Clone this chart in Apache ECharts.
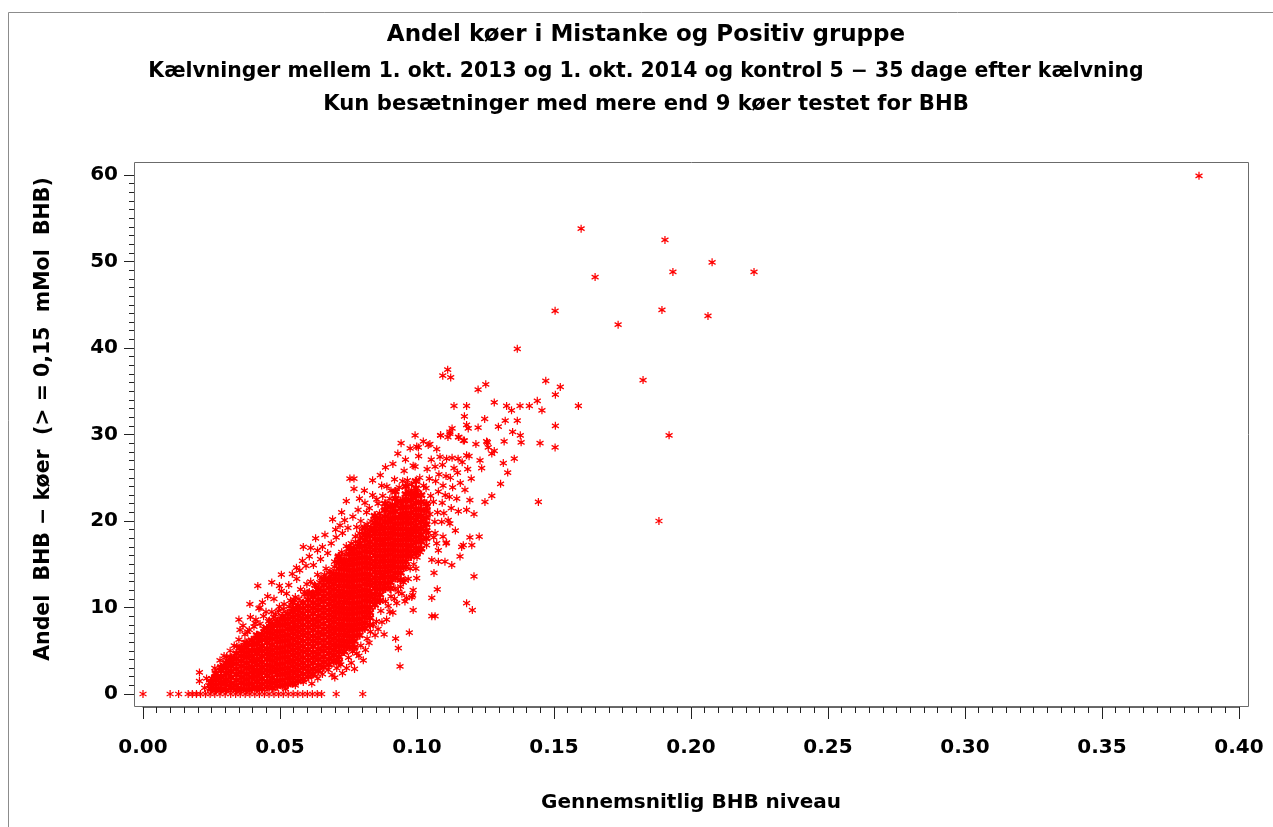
<!DOCTYPE html>
<html>
<head>
<meta charset="utf-8">
<script src="https://cdn.jsdelivr.net/npm/echarts@6/dist/echarts.min.js"></script>
<style>html,body{margin:0;padding:0;background:#fff;}#c{width:1273px;height:827px;}</style>
</head>
<body>
<div id="c"></div>
<script>
const titleLines = [
  "Andel køer i Mistanke og Positiv gruppe",
  "Kælvninger mellem 1. okt. 2013 og 1. okt. 2014 og kontrol 5 − 35 dage efter kælvning",
  "Kun besætninger med mere end 9 køer testet for BHB"
];
const xName = "Gennemsnitlig BHB niveau";
const yName = "Andel  BHB − køer  (> = 0,15  mMol  BHB)";
const xTicks = [0, 0.05, 0.10, 0.15, 0.20, 0.25, 0.30, 0.35, 0.40];
const yTicks = [0, 10, 20, 30, 40, 50, 60];

// herds with 0 % BHB cows
const zeroRowX = [0.000, 0.0099, 0.013, 0.0165, 0.018, 0.0195, 0.021, 0.0228, 0.0245, 0.0262, 0.0281, 0.030, 0.032, 0.0338, 0.0355, 0.0373, 0.039, 0.0408, 0.0425, 0.0443, 0.046, 0.0478, 0.0495, 0.0512, 0.053, 0.0548, 0.0565, 0.0583, 0.060, 0.0618, 0.0636, 0.0652, 0.0705, 0.0802];

// dense core, read column by column: x and the y values seen in that column
const coreX = [0.0248, 0.0266, 0.0285, 0.0303, 0.0322, 0.0341, 0.0359, 0.0378, 0.0397, 0.0416, 0.0434, 0.0453, 0.0472, 0.0490, 0.0509, 0.0528, 0.0547, 0.0565, 0.0584, 0.0603, 0.0621, 0.0640, 0.0659, 0.0678, 0.0696, 0.0715, 0.0734, 0.0753, 0.0771, 0.0790, 0.0809, 0.0828, 0.0846, 0.0865, 0.0884, 0.0903, 0.0921, 0.0940, 0.0959, 0.0978, 0.0996, 0.1015, 0.1034];
const coreY = [
  [0.6, 1.3],
  [0.5, 1.1, 1.8, 2.4],
  [0.6, 1.3, 1.9, 2.7, 3.1],
  [0.5, 1.2, 1.7, 2.4, 3.0, 3.6],
  [0.7, 1.2, 1.9, 2.6, 3.2, 3.7, 4.2],
  [0.5, 1.0, 1.6, 2.3, 2.9, 3.5, 4.1, 4.7],
  [0.6, 1.3, 1.9, 2.5, 3.2, 3.8, 4.4, 5.0, 5.4],
  [0.5, 1.1, 1.7, 2.3, 3.0, 3.6, 4.3, 4.8, 5.4, 5.9],
  [0.6, 1.2, 1.9, 2.5, 3.1, 3.8, 4.4, 5.0, 5.7, 6.2],
  [0.7, 1.4, 2.0, 2.6, 3.3, 3.9, 4.6, 5.1, 5.8, 6.4, 6.8],
  [0.6, 1.2, 1.8, 2.5, 3.1, 3.7, 4.4, 5.0, 5.6, 6.3, 6.9],
  [0.8, 1.4, 2.1, 2.7, 3.3, 4.0, 4.6, 5.2, 5.9, 6.5, 7.1, 7.6],
  [0.7, 1.3, 1.9, 2.6, 3.2, 3.9, 4.5, 5.1, 5.7, 6.4, 7.0, 7.6, 8.1],
  [0.9, 1.5, 2.2, 2.8, 3.4, 4.1, 4.7, 5.3, 6.0, 6.6, 7.2, 7.9, 8.4],
  [1.0, 1.6, 2.3, 2.9, 3.5, 4.2, 4.8, 5.4, 6.1, 6.7, 7.3, 8.0, 8.6, 9.0],
  [1.1, 1.8, 2.4, 3.0, 3.7, 4.3, 4.9, 5.6, 6.2, 6.8, 7.5, 8.1, 8.7, 9.3],
  [1.3, 1.9, 2.6, 3.2, 3.8, 4.5, 5.1, 5.7, 6.4, 7.0, 7.6, 8.3, 8.9, 9.5, 9.9, 10.6],
  [1.5, 2.1, 2.8, 3.4, 4.0, 4.7, 5.3, 5.9, 6.6, 7.2, 7.8, 8.5, 9.1, 9.7, 10.2],
  [1.7, 2.3, 3.0, 3.6, 4.2, 4.9, 5.5, 6.1, 6.8, 7.4, 8.0, 8.7, 9.3, 9.9, 10.5],
  [2.0, 2.6, 3.2, 3.9, 4.5, 5.1, 5.8, 6.4, 7.0, 7.7, 8.3, 8.9, 9.6, 10.2, 10.9, 11.6],
  [2.3, 2.9, 3.6, 4.2, 4.8, 5.5, 6.1, 6.7, 7.4, 8.0, 8.6, 9.3, 9.9, 10.5, 11.2, 11.6],
  [2.7, 3.3, 4.0, 4.6, 5.2, 5.9, 6.5, 7.1, 7.8, 8.4, 9.0, 9.7, 10.3, 10.9, 11.6, 12.1],
  [3.1, 3.7, 4.3, 5.0, 5.6, 6.2, 6.9, 7.5, 8.1, 8.8, 9.4, 10.0, 10.7, 11.3, 11.9, 12.6, 13.2],
  [3.4, 4.0, 4.7, 5.3, 5.9, 6.6, 7.2, 7.8, 8.5, 9.1, 9.7, 10.4, 11.0, 11.6, 12.3, 12.9, 13.3],
  [3.8, 4.5, 5.1, 5.7, 6.4, 7.0, 7.6, 8.3, 8.9, 9.5, 10.2, 10.8, 11.4, 12.1, 12.7, 13.3, 13.9],
  [3.7, 4.3, 4.9, 5.6, 6.2, 6.8, 7.5, 8.1, 8.7, 9.4, 10.0, 10.6, 11.3, 11.9, 12.5, 13.2, 13.8, 14.5, 15.2, 15.9],
  [4.9, 5.5, 6.1, 6.8, 7.4, 8.0, 8.7, 9.3, 9.9, 10.6, 11.2, 11.8, 12.5, 13.1, 13.7, 14.4, 15.0, 15.4],
  [5.4, 6.0, 6.7, 7.3, 7.9, 8.6, 9.2, 9.8, 10.5, 11.1, 11.7, 12.4, 13.0, 13.6, 14.3, 14.9, 15.5, 16.2, 16.8],
  [5.4, 6.1, 6.7, 7.4, 8.0, 8.6, 9.3, 9.9, 10.5, 11.2, 11.8, 12.4, 13.1, 13.7, 14.3, 15.0, 15.6, 16.2, 16.8],
  [6.8, 7.5, 8.1, 8.7, 9.4, 10.0, 10.6, 11.3, 11.9, 12.5, 13.2, 13.8, 14.4, 15.1, 15.7, 16.3, 17.0, 17.4],
  [7.6, 8.2, 8.9, 9.5, 10.1, 10.8, 11.4, 12.0, 12.7, 13.3, 13.9, 14.6, 15.2, 15.8, 16.5, 17.1, 17.8, 18.4, 19.2],
  [8.0, 8.8, 9.4, 10.0, 10.7, 11.3, 11.9, 12.6, 13.2, 13.8, 14.5, 15.1, 15.7, 16.4, 17.0, 17.6, 18.3, 19.0],
  [10.3, 10.9, 11.5, 12.2, 12.8, 13.4, 14.1, 14.7, 15.3, 16.0, 16.6, 17.2, 17.9, 18.5, 19.1, 19.8, 20.6],
  [10.8, 11.5, 12.1, 12.8, 13.4, 14.0, 14.7, 15.3, 15.9, 16.6, 17.2, 17.8, 18.5, 19.1, 19.6, 20.3],
  [12.2, 12.8, 13.5, 14.1, 14.7, 15.4, 16.0, 16.6, 17.3, 17.9, 18.5, 19.2, 19.8, 20.5, 21.3, 22.0],
  [12.2, 12.9, 13.5, 14.2, 14.8, 15.4, 16.1, 16.7, 17.3, 18.0, 18.6, 19.2, 19.9, 20.3, 21.0, 21.7],
  [13.4, 14.0, 14.7, 15.3, 15.9, 16.6, 17.2, 17.8, 18.5, 19.1, 19.7, 20.4, 21.1, 21.8, 22.6, 23.4],
  [13.2, 14.0, 14.6, 15.3, 15.9, 16.5, 17.2, 17.8, 18.4, 19.1, 19.7, 20.3, 20.8, 21.5, 22.3],
  [14.7, 15.3, 16.0, 16.6, 17.2, 17.9, 18.5, 19.1, 19.8, 20.4, 20.9, 21.6, 22.4, 23.1, 24.0],
  [15.9, 16.5, 17.1, 17.8, 18.4, 19.0, 19.7, 20.3, 20.9, 21.6, 22.4, 23.2],
  [16.3, 16.9, 17.6, 18.2, 18.9, 19.5, 20.1, 20.7, 21.4, 22.1, 22.9, 23.8, 24.6],
  [16.8, 17.6, 18.4, 19.1, 19.9, 20.6, 21.3, 22.2, 23.0],
  [18.0, 18.9, 19.6, 20.4, 21.2, 22.0]
];

// loose points around the dense core
const haloPts = [
  [0.0206,2.5],[0.0206,1.5],[0.0232,1.8],[0.0250,1.8],[0.0269,2.0],[0.0318,3.5],[0.0240,1.0],[0.0225,0.7],
  [0.0262,3.0],[0.0281,3.9],[0.0296,4.4],[0.0318,5.0],[0.0333,5.6],[0.0350,6.3],[0.0372,6.9],[0.0388,7.4],[0.0405,7.8],[0.0412,8.6],[0.0427,8.1],[0.0440,9.0],[0.0449,9.5],[0.0470,9.5],[0.0462,8.5],[0.0483,9.2],[0.0498,10.1],[0.0515,10.4],[0.0524,11.6],[0.0538,10.8],[0.0556,11.2],[0.0561,13.3],[0.0575,12.1],[0.0590,11.8],[0.0598,12.7],[0.0612,13.0],[0.0626,12.6],[0.0637,13.8],[0.0650,13.4],[0.0668,14.5],[0.0683,14.2],[0.0699,15.3],[0.0712,15.8],[0.0725,16.4],[0.0742,17.1],[0.0760,17.4],[0.0775,18.2],[0.0790,18.6],[0.0802,19.1],[0.0818,19.6],[0.0832,20.0],[0.0848,20.4],[0.0863,20.9],[0.0879,21.2],[0.0895,21.6],[0.0910,21.9],[0.0928,22.3],[0.0944,22.0],[0.0960,22.6],[0.0975,22.2],[0.0990,22.9],
  [0.0419,12.5],[0.0498,12.5],[0.0585,17.0],[0.0582,15.4],[0.0637,16.6],[0.0664,18.4],[0.0692,20.2],[0.0719,19.5],[0.0755,24.9],[0.0770,24.9],[0.0770,23.7],[0.0871,24.1],[0.0853,22.5],[0.0901,22.6],[0.0816,21.0],[0.0780,19.3],[0.0953,25.8],[0.0305,4.3],[0.0342,5.5],[0.0372,6.0],[0.0354,7.4],[0.0382,7.2],[0.0427,10.0],[0.0423,9.9],[0.0409,8.2],
  [0.0365,7.9],[0.0392,8.9],[0.0436,10.6],[0.0455,11.3],[0.0478,11.0],[0.0505,11.9],[0.0532,12.6],[0.0545,13.9],[0.0572,14.3],[0.0595,14.8],[0.0607,15.9],[0.0622,14.9],[0.0648,15.6],[0.0655,17.0],[0.0674,16.3],[0.0687,17.4],[0.0705,18.1],[0.0728,18.6],[0.0736,20.1],[0.0748,19.2],[0.0766,20.5],[0.0785,21.3],[0.0795,20.0],[0.0810,22.1],[0.0826,21.5],[0.0838,23.0],[0.0858,22.0],[0.0875,22.9],[0.0890,24.0],[0.0905,23.5],[0.0918,24.8],[0.0935,23.9],[0.0948,24.6],[0.0958,27.1],
  [0.0440,7.6],[0.0458,8.4],[0.0477,8.9],[0.0494,9.6],[0.0512,9.8],[0.0533,10.1],[0.0551,10.9],[0.0569,11.0],[0.0588,11.5],[0.0607,11.8],[0.0630,12.5],[0.0645,12.9],[0.0662,13.8],[0.0680,14.0],[0.0698,14.7],[0.0718,15.4],[0.0737,16.1],[0.0757,16.9],[0.0776,17.6],[0.0794,18.0],[0.0813,18.5],[0.0831,19.2],[0.0850,19.7],
  [0.0560,14.6],[0.0612,16.9],[0.0630,18.0],[0.0703,19.0],[0.0725,21.0],[0.0742,22.3],[0.0790,22.6],[0.0808,23.5],[0.0838,24.7],[0.0866,25.3],[0.0885,26.2],[0.0912,26.6],[0.0930,27.8],[0.0942,29.0],[0.0975,28.4],[0.0505,13.8],[0.0470,12.9],[0.0390,10.4],[0.0350,8.6],
  [0.0520,0.6],[0.0556,1.0],[0.0585,1.4],[0.0616,1.2],[0.0616,2.2],[0.0638,1.8],[0.0655,2.3],[0.0676,2.8],[0.0690,2.2],[0.0707,3.0],[0.0722,3.4],[0.0743,3.0],[0.0750,4.2],[0.0765,4.9],[0.0780,4.7],[0.0795,5.6],[0.0804,3.9],[0.0818,6.4],[0.0830,7.2],[0.0847,6.8],[0.0852,8.4],[0.0868,9.6],[0.0889,8.6],[0.0885,10.7],[0.0901,9.5],[0.0905,11.3],[0.0926,10.5],[0.0920,12.2],[0.0940,12.4],[0.0962,11.1],[0.0956,13.2],[0.0984,11.4],[0.0986,12.0],[0.0975,14.5],[0.0999,13.4],[0.0996,14.5],[0.1000,15.8],[0.0922,6.4],[0.0932,5.3],[0.0938,3.2],[0.0972,7.1],[0.0986,9.7],[0.0956,10.7],[0.0981,11.2],
  [0.0700,1.9],[0.0728,2.4],[0.0760,3.6],[0.0772,2.9],[0.0788,4.4],[0.0812,5.1],[0.0825,5.9],[0.0840,8.0],[0.0858,7.5],[0.0872,8.3],[0.0880,6.9],[0.0895,10.2],[0.0912,9.4],[0.0918,11.0],[0.0932,11.8],[0.0945,11.6],[0.0950,12.9],[0.0968,13.3],[0.0988,15.0]
];

// upper-right tail of the cloud
const tailPts = [
  [0.1012,16.4],[0.1018,17.9],[0.1008,19.2],[0.1021,20.1],[0.1005,21.4],[0.1016,22.2],[0.1002,23.3],[0.1024,24.1],[0.1010,25.0],[0.0993,26.3],[0.1006,27.5],[0.0993,29.9],[0.0999,28.6],[0.1041,28.8],[0.1023,29.2],[0.1047,28.9],[0.1005,28.5],[0.0986,26.4],[0.0980,24.2],[0.0968,23.5],[0.0985,23.1],[0.0965,24.7],
  [0.1035,17.2],[0.1042,18.6],[0.1030,19.7],[0.1047,20.8],[0.1038,21.7],[0.1050,22.9],[0.1033,23.8],[0.1045,24.9],[0.1037,26.0],[0.1052,27.1],
  [0.1061,18.1],[0.1066,18.6],[0.1072,17.4],[0.1065,19.9],[0.1075,21.0],[0.1060,22.2],[0.1078,23.4],[0.1068,24.6],[0.1080,25.4],[0.1066,26.3],[0.1084,27.4],[0.1072,28.3],[0.1086,29.9],
  [0.1090,19.9],[0.1098,20.9],[0.1092,22.1],[0.1103,23.0],[0.1095,24.1],[0.1106,25.2],[0.1093,26.5],[0.1108,27.2],[0.1113,29.7],[0.1120,30.1],[0.1128,30.7],
  [0.1114,20.1],[0.1120,19.7],[0.1125,21.5],[0.1118,22.8],[0.1130,23.9],[0.1122,25.0],[0.1135,26.1],[0.1128,27.3],[0.1153,29.7],[0.1150,27.2],
  [0.1151,21.1],[0.1145,22.6],[0.1158,24.4],[0.1148,25.6],[0.1165,26.8],[0.1181,27.6],[0.1190,27.5],[0.1173,29.3],[0.1181,21.3],[0.1193,22.4],[0.1208,20.8],[0.1175,23.6],[0.1198,24.9],[0.1185,26.0],
  [0.1078,16.6],[0.1054,15.5],[0.1078,15.3],[0.1102,15.3],[0.1127,14.9],[0.1062,14.0],[0.1074,12.1],[0.1054,11.1],[0.1054,9.0],[0.1066,9.0],[0.1106,17.4],[0.1163,17.0],[0.1193,18.1],[0.1227,18.2],[0.1169,17.2],[0.1157,15.9],[0.1208,13.6],[0.1181,10.5],[0.1202,9.7],[0.1200,17.2],[0.1108,17.5],[0.1140,18.9],[0.1095,18.2],
  [0.1366,39.9],[0.1112,37.5],[0.1094,36.8],[0.1123,36.6],[0.1251,35.8],[0.1223,35.2],[0.1470,36.2],[0.1523,35.5],[0.1505,34.6],[0.1589,33.3],[0.1282,33.7],[0.1135,33.3],[0.1181,33.3],[0.1327,33.3],[0.1376,33.3],[0.1410,33.3],[0.1345,32.8],[0.1439,33.9],[0.1456,32.8],[0.1173,32.1],[0.1247,31.8],[0.1322,31.6],[0.1366,31.6],[0.1297,30.9],[0.1181,31.1],[0.1187,30.7],[0.1223,30.8],[0.1349,30.3],[0.1377,29.9],[0.1380,29.1],[0.1505,31.0],[0.1086,29.9],[0.1215,28.9],[0.1254,29.2],[0.1260,28.5],[0.1282,28.1],[0.1318,29.2],[0.1449,29.0],[0.1504,28.5],[0.1230,27.0],[0.1236,26.1],[0.1273,27.8],[0.1315,26.7],[0.1355,27.2],[0.1331,25.6],[0.1305,24.3],[0.1273,22.9],[0.1248,22.2],[0.1443,22.2],[0.1257,29.1],[0.1169,29.3],[0.1120,30.3],[0.1151,29.7]
];

// isolated herds far from the cloud
const outlierPts = [
  [0.3854,59.9],[0.1599,53.8],[0.1905,52.5],[0.2077,49.9],[0.1934,48.8],[0.2230,48.8],[0.1650,48.2],[0.1504,44.3],[0.1894,44.4],[0.2062,43.7],[0.1734,42.7],[0.1825,36.3],[0.1920,29.9],[0.1883,20.0]
];

const corePoints = [];
coreX.forEach((x, i) => coreY[i].forEach(y => corePoints.push([x, y])));
const loosePoints = [];
zeroRowX.forEach(x => loosePoints.push([x, 0]));
haloPts.forEach(p => loosePoints.push(p));
tailPts.forEach(p => loosePoints.push(p));
outlierPts.forEach(p => loosePoints.push(p));

const FONT = 'DejaVu Sans';
const chart = echarts.init(document.getElementById('c'), null, {renderer: 'canvas'});
const star = 'path://M5,0L5,10M0.67,2.5L9.33,7.5M0.67,7.5L9.33,2.5';

chart.setOption({
  animation: false,
  backgroundColor: '#ffffff',
  grid: {left: 143, top: 175, width: 1096, height: 519, containLabel: false},
  xAxis: {
    type: 'value', min: 0, max: 0.4, interval: 0.05, offset: 13,
    name: xName, nameLocation: 'middle', nameGap: 86,
    nameTextStyle: {fontFamily: FONT, fontWeight: 'bold', fontSize: 20, color: '#000'},
    axisLine: {show: true, onZero: false, lineStyle: {color: '#666', width: 1}},
    axisTick: {show: true, length: 12, lineStyle: {color: '#222'}},
    minorTick: {show: true, splitNumber: 10, length: 6, lineStyle: {color: '#222'}},
    splitLine: {show: false},
    axisLabel: {fontFamily: FONT, fontWeight: 'bold', fontSize: 20, color: '#000', margin: 31,
      formatter: v => xTicks.some(t => Math.abs(t - v) < 1e-9) ? v.toFixed(2) : ''}
  },
  yAxis: {
    type: 'value', min: 0, max: 60, interval: 10, offset: 9,
    axisLine: {show: true, onZero: false, lineStyle: {color: '#666', width: 1}},
    axisTick: {show: true, length: 10, lineStyle: {color: '#222'}},
    minorTick: {show: true, splitNumber: 10, length: 5, lineStyle: {color: '#222'}},
    splitLine: {show: false},
    axisLabel: {fontFamily: FONT, fontWeight: 'bold', fontSize: 20, color: '#000', margin: 16,
      formatter: v => yTicks.indexOf(v) >= 0 ? String(v) : ''}
  },
  graphic: [
    {type: 'rect', silent: true, z: 0, shape: {x: 8.5, y: 12.5, width: 1300, height: 900}, style: {fill: 'none', stroke: '#8c8c8c', lineWidth: 1}},
    {type: 'rect', silent: true, z: 10, shape: {x: 134.5, y: 162.5, width: 1114, height: 544}, style: {fill: 'none', stroke: '#6b6b6b', lineWidth: 1}},
    {type: 'text', silent: true, x: 646, y: 35, style: {text: titleLines[0], font: 'bold 23px "DejaVu Sans"', fill: '#000', textAlign: 'center', textVerticalAlign: 'middle'}},
    {type: 'text', silent: true, x: 646, y: 72, style: {text: titleLines[1], font: 'bold 20.4px "DejaVu Sans"', fill: '#000', textAlign: 'center', textVerticalAlign: 'middle'}},
    {type: 'text', silent: true, x: 646, y: 104, style: {text: titleLines[2], font: 'bold 21.2px "DejaVu Sans"', fill: '#000', textAlign: 'center', textVerticalAlign: 'middle'}},
    {type: 'text', silent: true, x: 44, y: 419, rotation: Math.PI / 2, style: {text: yName, font: 'bold 20.5px "DejaVu Sans"', fill: '#000', textAlign: 'center', textVerticalAlign: 'middle'}}
  ],
  series: [{
    type: 'scatter',
    data: corePoints,
    symbol: star,
    symbolSize: [8, 9],
    silent: true,
    itemStyle: {color: 'rgba(0,0,0,0)', borderColor: '#ff0000', borderWidth: 2.4, opacity: 1}
  }, {
    type: 'scatter',
    data: loosePoints,
    symbol: star,
    symbolSize: [7, 8],
    silent: true,
    itemStyle: {color: 'rgba(0,0,0,0)', borderColor: '#ff0000', borderWidth: 1.3, opacity: 1},
    markLine: {
      silent: true, symbol: 'none', label: {show: false},
      lineStyle: {color: '#9a9a9a', width: 1, type: 'solid'},
      data: [[{coord: [-0.0033, 0]}, {coord: [0.4036, 0]}]]
    }
  }]
});
</script>
</body>
</html>
